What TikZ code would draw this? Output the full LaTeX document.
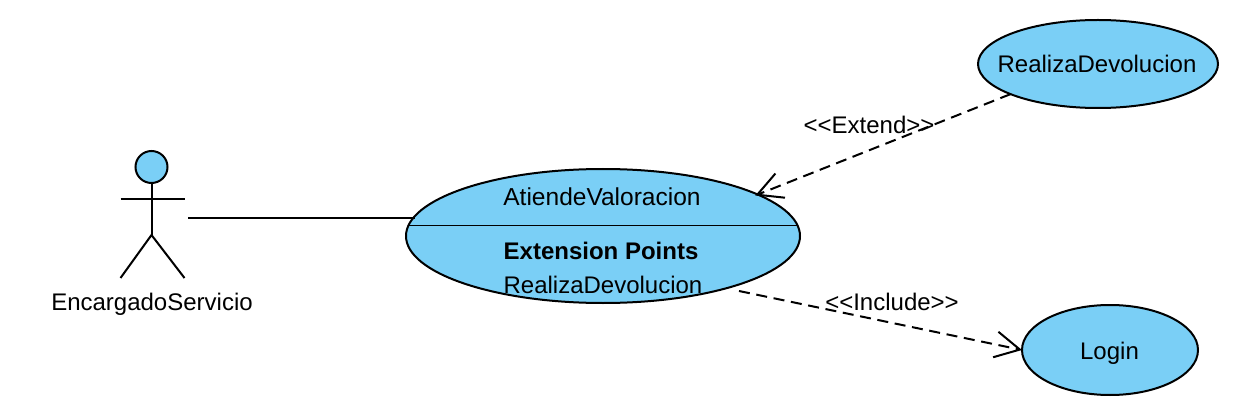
\documentclass[tikz,border=0pt]{standalone}
\usepackage{fontspec}
\newfontfamily\umlfont{Liberation Sans}
\usetikzlibrary{arrows.meta,shapes.geometric}
\definecolor{usecaseblue}{HTML}{7ACFF6}
\tikzset{
  usecase/.style={draw,ellipse,fill=usecaseblue,line width=1.5pt,inner sep=0pt,outer sep=0pt},
  umltext/.style={font=\umlfont\fontsize{18}{20}\selectfont,inner sep=0pt},
  relation/.style={line width=1.5pt,dash pattern=on 8.25pt off 5pt,-{Straight Barb[length=18.5pt,width=19.5pt,line width=1.5pt]}},
}

\begin{document}
\begin{tikzpicture}[x=0.75pt,y=-0.75pt]
    \useasboundingbox (0,0) rectangle (1249,406);
    % casos de uso
    \node[usecase,minimum width=295.5pt,minimum height=100.5pt] (atiende) at (603,236) {};
    \node[usecase,minimum width=180pt,minimum height=66pt] (realiza) at (1098,64) {};
    \node[usecase,minimum width=132pt,minimum height=67.5pt] (login) at (1110,350) {};
    % textos de los casos de uso
    \node[umltext,font=\umlfont\fontsize{18.4}{20}\selectfont] (atiendeText) at (602,197) {AtiendeValoracion};
    \node[umltext,font=\umlfont\bfseries\fontsize{18}{20}\selectfont] (extensionText) at (601,251) {Extension Points};
    \node[umltext] (puntoText) at (603,285) {RealizaDevolucion};
    \node[umltext] (realizaText) at (1097,64) {RealizaDevolucion};
    \node[umltext] (loginText) at (1109.5,353) {Login};
    % linea de los puntos de extension
    \draw[line width=0.75pt] (409,225) -- (797,225);
    % actor
    \node[draw,circle,fill=usecaseblue,line width=1.5pt,minimum size=24pt,inner sep=0pt,outer sep=0pt] (head) at (151.5,167) {};
    \coordinate (hip) at (151.5,235);
    \draw[line width=1.5pt] (head) -- (hip);
    \draw[line width=1.5pt] (120.5,199) -- (184.5,199);
    \draw[line width=1.5pt] (120.5,278) -- (hip) -- (184.5,278);
    \node[umltext] (actorText) at (152,304) {EncargadoServicio};
    % asociacion
    \coordinate (actorEnd) at (188,218);
    \draw[line width=1.5pt] (actorEnd) -- (actorEnd -| atiende.174.9);
    % extend
    \draw[relation,shorten >=-2pt] (realiza.199.4) -- (atiende.15.8);
    \node[umltext] (extendText) at (869,125) {<<Extend>>};
    % include
    \coordinate (includeStart) at (739,291);
    \draw[relation] (includeStart) -- (login.west);
    \node[umltext] (includeText) at (892,302) {<<Include>>};
\end{tikzpicture}
\end{document}
